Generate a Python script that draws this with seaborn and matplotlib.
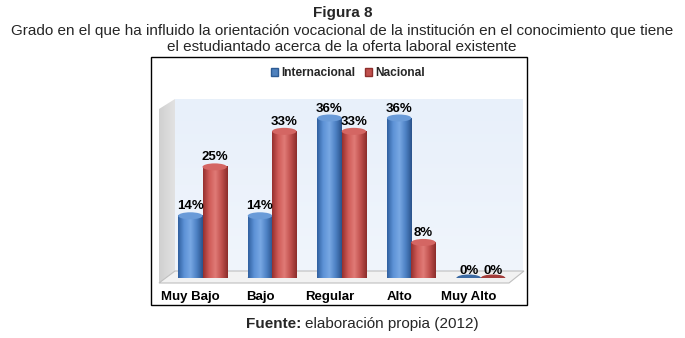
import numpy as np
import pandas as pd
import matplotlib
matplotlib.use("Agg")
import matplotlib.pyplot as plt
import seaborn as sns
from matplotlib.patches import Rectangle, Polygon, Ellipse, Patch
from matplotlib.colors import LinearSegmentedColormap

# ---------------- data ----------------
categories = ["Muy Bajo", "Bajo", "Regular", "Alto", "Muy Alto"]
series = ["Internacional", "Nacional"]
internacional = [14, 14, 36, 36, 0]
nacional = [25, 33, 33, 8, 0]

title = "Figura 8"
subtitle1 = "Grado en el que ha influido la orientación vocacional de la institución en el conocimiento que tiene"
subtitle2 = "el estudiantado acerca de la oferta laboral existente"
source_bold = "Fuente:"
source_rest = "elaboración propia (2012)"

df = pd.DataFrame({
    "cat": categories * 2,
    "val": internacional + nacional,
    "serie": [series[0]] * len(categories) + [series[1]] * len(categories),
})

sns.set_theme(style="white")
plt.rcParams["font.family"] = ["Liberation Sans", "DejaVu Sans"]

W, H = 685, 338
fig = plt.figure(figsize=(6.85, 3.38), dpi=100)
fig.patch.set_facecolor("white")

# background axes in pixel coordinates
bg = fig.add_axes([0, 0, 1, 1])
bg.set_xlim(0, W)
bg.set_ylim(H, 0)
bg.axis("off")

# chart frame
bg.add_patch(Rectangle((151, 57), 376, 248, fill=False, ec="black", lw=1.0))
# back wall with gradient
wall = np.linspace(0, 1, 100).reshape(-1, 1)
wall_cmap = LinearSegmentedColormap.from_list("w", ["#e8f0fa", "#f0f5fc"])
bg.imshow(wall, extent=[175, 523, 271, 99], cmap=wall_cmap, aspect="auto", zorder=1)
# left side wall
lw_grad = np.linspace(0, 1, 50).reshape(1, -1)
lw_img = bg.imshow(lw_grad, extent=[159, 175, 283, 99],
                   cmap=LinearSegmentedColormap.from_list("g", ["#d0d0d0", "#e2e2e2"]),
                   aspect="auto", zorder=2)
lw_poly = Polygon([(159, 109), (175, 99), (175, 271), (159, 283)], closed=True,
                  fc="none", ec="none", transform=bg.transData)
bg.add_patch(lw_poly)
lw_img.set_clip_path(lw_poly)
# floor
bg.add_patch(Polygon([(159, 283), (175, 271), (524, 271), (509, 283)], closed=True,
                     fc="#f2f2f2", ec="#bfbfbf", lw=0.8, zorder=2))
bg.set_xlim(0, W)
bg.set_ylim(H, 0)

# main axes
px_left, px_right, px_top, px_zero = 176, 522, 97, 278
cat0_px, step_px = 202.5, 69.6
px_per_unit = 160 / 36.0
ax = fig.add_axes([px_left / W, 1 - px_zero / H, (px_right - px_left) / W, (px_zero - px_top) / H])
ax.patch.set_alpha(0)

blue, red = "#4f81bd", "#c0504d"
sns.barplot(data=df, x="cat", y="val", hue="serie", palette=[blue, red],
            width=0.7, dodge=True, saturation=1, ax=ax, legend=False)

ax.axis("off")

cmaps = {
    "b": LinearSegmentedColormap.from_list("b", ["#2f5f9e", "#5d92d6", "#78a8e4", "#4d81c4", "#2a528a"]),
    "r": LinearSegmentedColormap.from_list("r", ["#952f2d", "#cf5b58", "#e07a76", "#c0504d", "#8a2c2a"]),
}
caps = {"b": "#6a9bd8", "r": "#d46663"}
bottoms = {"b": "#3c6aa3", "r": "#a33d3a"}

grad = np.linspace(0, 1, 256).reshape(1, -1)
ell_h = 7 / px_per_unit
vals = internacional + nacional
bars = [p for p in ax.patches if isinstance(p, Rectangle)]
for i, p in enumerate(bars[:len(vals)]):
    key = "b" if i < len(categories) else "r"
    x, w, h = p.get_x(), p.get_width(), p.get_height()
    p.set_visible(False)
    cx = x + w / 2
    ax.add_patch(Ellipse((cx, 0), w, ell_h, fc=bottoms[key], ec="none", zorder=3))
    if h > 0:
        ax.imshow(grad, extent=[x, x + w, 0, h], cmap=cmaps[key], aspect="auto", zorder=4)
        ax.add_patch(Ellipse((cx, h), w, ell_h, fc=caps[key], ec="none", zorder=5))
    else:
        ax.add_patch(Ellipse((cx, 0), w, ell_h * 0.7, fc=bottoms[key], ec="none", zorder=5))
    ax.annotate(f"{vals[i]}%", (cx, h), xytext=(0, 2.5 if h > 0 else 0.5), textcoords="offset points",
                ha="center", va="bottom", fontsize=9.5, fontweight="bold", color="black", zorder=6)

ax.set_aspect("auto")
ax.set_xlim((px_left - cat0_px) / step_px, (px_right - cat0_px) / step_px)
ax.set_ylim(0, (px_zero - px_top) / px_per_unit)

# category labels
for i, c in enumerate(categories):
    xpx = cat0_px + i * step_px - 12
    bg.text(xpx, 297, c, ha="center", va="center", fontsize=9.5, fontweight="bold", color="black")

# legend
fig.legend(handles=[Patch(fc=blue, ec="#2d5b94"), Patch(fc=red, ec="#8f2f2d")], labels=series,
           loc="center", bbox_to_anchor=(348 / W, 1 - 73 / H), ncol=2, frameon=False,
           prop={"weight": "bold", "size": 8.6}, handlelength=0.6, handleheight=0.6,
           columnspacing=0.8, handletextpad=0.3)

# titles
bg.text(343, 13, title, ha="center", va="center", fontsize=11, fontweight="bold")
bg.text(342, 31, subtitle1, ha="center", va="center", fontsize=11)
bg.text(342, 47, subtitle2, ha="center", va="center", fontsize=11)

# source
bg.text(301, 324, source_bold, ha="right", va="center", fontsize=11, fontweight="bold")
bg.text(305, 324, source_rest, ha="left", va="center", fontsize=11)

fig.savefig("out.png", dpi=100, facecolor="white")
